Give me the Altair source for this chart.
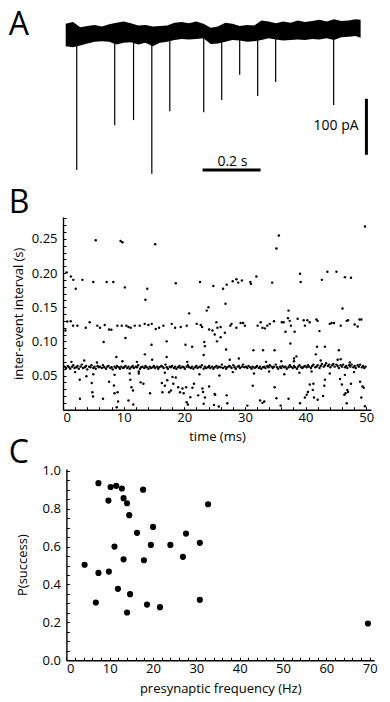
import altair as alt
import pandas as pd

FONT = "Open Sans"

# ---------------- Panel A : current trace ----------------
trace_t = [0.000, 0.025, 0.050, 0.075, 0.100, 0.125, 0.150, 0.175, 0.200, 0.225,
           0.250, 0.275, 0.300, 0.325, 0.350, 0.375, 0.400, 0.425, 0.450, 0.475,
           0.500, 0.525, 0.550, 0.575, 0.600, 0.625, 0.650, 0.675, 0.700, 0.725,
           0.750, 0.775, 0.800, 0.825, 0.850, 0.875, 0.900, 0.925, 0.950, 0.975,
           1.000, 1.017]
trace_top = [20, 23, 14, 16, 18, 15, 19, 22, 24, 21, 17, 18, 15, 16, 17, 22, 23, 21, 24, 20,
             13, 15, 22, 20, 16, 18, 17, 26, 24, 21, 24, 22, 26, 23, 25, 27, 24, 28, 25, 26,
             28, 27]
trace_bot = [-20, -22, -19, -15, -12, -11, -12, -17, -14, -13, -17, -14, -20, -14, -12, -9, -7, -8,
             -7, -6, -16, -15, -12, -9, -10, -12, -11, -9, -6, -8, -10, -9, -8, -9, -7, -8, -6,
             -9, -4, -3, -2, -5]
spike_t = [0.038, 0.169, 0.234, 0.297, 0.359, 0.476, 0.538, 0.600, 0.662, 0.724, 0.924]
spike_amp = [241, 161, 152, 248, 136, 138, 116, 71, 109, 84, 125]
time_bar = [0.472, 0.672]      # 0.2 s scale bar
time_bar_level = -241
amp_bar_time = 1.037
amp_bar = [-114, -214]         # 100 pA scale bar

# ---------------- Panel B : inter-event intervals ----------------
b_band = [
    (0.3, .063), (0.5, .061), (0.8, .064), (1.0, .062), (1.2, .060), (1.5, .063), (1.7, .065), (1.9, .061),
    (2.2, .062), (2.4, .064), (2.6, .060), (2.9, .063), (3.1, .066), (3.3, .061), (3.6, .062), (3.8, .064),
    (4.0, .059), (4.3, .063), (4.5, .062), (4.7, .065), (5.0, .061), (5.2, .063), (5.4, .060), (5.7, .064),
    (5.9, .062), (6.1, .063), (6.4, .061), (6.6, .065), (6.8, .062), (7.1, .060), (7.3, .063), (7.5, .064),
    (7.8, .061), (8.0, .062), (8.2, .059), (8.5, .063), (8.7, .061), (8.9, .064), (9.2, .062), (9.4, .060),
    (9.6, .063), (9.9, .061),
    (10.1, .062), (10.3, .064), (10.6, .061), (10.8, .063), (11.0, .060), (11.3, .062), (11.5, .064),
    (11.7, .061), (12.0, .063), (12.2, .062), (12.4, .065), (12.7, .060), (12.9, .062), (13.1, .063),
    (13.4, .061), (13.6, .064), (13.8, .062), (14.1, .060), (14.3, .063), (14.5, .061), (14.8, .062),
    (15.0, .064), (15.2, .061), (15.5, .063), (15.7, .060), (15.9, .062), (16.2, .064), (16.4, .063),
    (16.6, .061), (16.9, .066), (17.1, .062), (17.3, .060), (17.6, .063), (17.8, .062), (18.0, .064),
    (18.3, .061), (18.5, .063), (18.7, .060), (19.0, .062), (19.2, .064), (19.4, .061), (19.7, .063),
    (19.9, .062),
    (20.1, .060), (20.4, .063), (20.6, .065), (20.8, .062), (21.1, .061), (21.3, .063), (21.5, .060),
    (21.8, .062), (22.0, .064), (22.2, .061), (22.5, .063), (22.7, .062), (22.9, .065), (23.2, .060),
    (23.4, .063), (23.6, .061), (23.9, .062), (24.1, .064), (24.3, .061), (24.6, .063), (24.8, .060),
    (25.0, .062), (25.3, .064), (25.5, .061), (25.7, .063), (26.0, .062), (26.2, .066), (26.4, .061),
    (26.7, .063), (26.9, .060), (27.1, .062), (27.4, .064), (27.6, .063), (27.8, .061), (28.1, .065),
    (28.3, .062), (28.5, .060), (28.8, .063), (29.0, .064), (29.2, .061), (29.5, .063), (29.7, .066),
    (29.9, .062),
    (30.2, .063), (30.4, .061), (30.6, .064), (30.9, .062), (31.1, .060), (31.3, .063), (31.6, .061),
    (31.8, .062), (32.0, .064), (32.3, .061), (32.5, .063), (32.7, .060), (33.0, .062), (33.2, .063),
    (33.4, .061), (33.7, .064), (33.9, .062), (34.1, .065), (34.4, .063), (34.6, .061), (34.8, .063),
    (35.1, .066), (35.3, .062), (35.5, .060), (35.8, .063), (36.0, .061), (36.2, .064), (36.5, .062),
    (36.7, .063), (36.9, .060), (37.2, .062), (37.4, .065), (37.6, .063), (37.9, .061), (38.1, .064),
    (38.3, .062), (38.6, .060), (38.8, .063), (39.0, .065), (39.3, .062), (39.5, .061), (39.7, .063),
    (39.9, .064),
    (40.2, .062), (40.4, .065), (40.6, .063), (40.9, .061), (41.1, .064), (41.3, .066), (41.6, .062),
    (41.8, .063), (42.0, .065), (42.3, .061), (42.5, .064), (42.7, .067), (43.0, .063), (43.2, .065),
    (43.4, .068), (43.7, .064), (43.9, .066), (44.1, .062), (44.4, .065), (44.6, .067), (44.8, .063),
    (45.1, .066), (45.3, .064), (45.5, .061), (45.8, .065), (46.0, .063), (46.2, .066), (46.5, .062),
    (46.7, .064), (46.9, .061), (47.2, .065), (47.4, .063), (47.6, .066), (47.9, .062), (48.1, .064),
    (48.3, .061), (48.6, .065), (48.8, .063), (49.0, .066), (49.3, .062), (49.5, .064), (49.7, .061),
    (49.9, .063),
]
b_upper = [
    (0.6, .201), (1.3, .195), (1.7, .190), (2.1, .177), (3.2, .190), (5.0, .187), (7.2, .187), (8.3, .187),
    (10.2, .179), (13.6, .161), (13.9, .177), (18.6, .185), (22.6, .187), (24.8, .181), (26.4, .177),
    (27.0, .183), (28.0, .188), (28.6, .191), (28.9, .186), (29.5, .189), (30.9, .187), (31.0, .184),
    (31.9, .195), (34.5, .186), (39.1, .199), (39.2, .187), (42.7, .190), (43.6, .202), (45.1, .202),
    (46.5, .194), (47.5, .193),
    (5.4, .248), (9.5, .247), (9.8, .245), (15.2, .242), (35.2, .236), (35.6, .255), (49.8, .268),
    (20.8, .141), (23.7, .145), (24.0, .150), (26.8, .155), (37.2, .145), (46.1, .148),
]
b_mid = [
    (0.4, .116), (0.7, .129), (1.27, .1295), (1.66, .123), (2.37, .123), (3.75, .120), (4.4, .128),
    (5.67, .123), (6.11, .120), (6.88, .124), (7.6, .1174), (7.98, .117), (8.97, .123), (9.69, .123),
    (10.45, .123), (10.8, .121), (11.17, .120), (11.83, .123), (12.66, .123), (13.48, .1256),
    (14.09, .124), (14.64, .1256), (15.3, .118), (15.85, .120), (16.56, .123), (17.94, .1256),
    (18.49, .120), (19.42, .121), (20.41, .123), (22.06, .1256), (22.72, .124), (22.94, .121),
    (24.1, .1174), (24.65, .116), (25.3, .128), (25.47, .120), (25.03, .110), (26.0, .121),
    (26.7, .1125), (27.6, .123), (27.8, .1256), (28.6, .120), (29.3, .127), (29.7, .127), (30.0, .123),
    (32.1, .123), (32.6, .128), (32.9, .120), (33.3, .119), (33.7, .123), (34.1, .1256), (34.8, .1295),
    (36.1, .128), (36.4, .128), (36.7, .114), (37.1, .134), (37.4, .130), (37.6, .123), (38.7, .133),
    (39.7, .131), (39.9, .123), (40.3, .131), (40.7, .128), (41.8, .132), (42.0, .130), (42.3, .115),
    (44.0, .1256), (44.3, .127), (44.7, .127), (45.8, .123), (46.8, .130), (47.0, .131), (48.1, .1246),
    (48.6, .1218), (48.9, .132), (49.2, .132),
]
b_scatter = [
    (6.7, .099), (8.8, .077), (10.3, .105), (13.5, .081), (14.6, .095), (17.1, .100), (17.1, .077),
    (20.2, .095), (21.3, .092), (23.3, .099), (23.4, .093), (23.2, .080), (25.4, .100), (26.0, .106),
    (26.9, .088), (31.4, .087), (33.0, .087), (34.9, .087), (37.5, .097), (38.1, .075), (38.1, .071),
    (38.2, .114), (41.7, .081), (41.9, .092), (43.2, .092), (45.5, .087), (45.3, .073),
    (1.4, .070), (3.5, .072), (5.6, .069), (9.8, .071), (12.2, .070), (14.7, .073), (20.5, .070),
    (27.5, .073), (29.0, .075), (33.5, .070), (36.0, .071), (38.5, .078), (42.5, .072), (45.8, .074),
    (47.3, .069),
    (2.0, .055), (5.0, .052), (8.5, .051), (11.0, .053), (12.5, .056), (16.8, .054), (22.5, .052),
    (25.8, .050), (28.0, .055), (31.5, .053), (34.0, .056), (36.5, .052), (39.0, .054), (41.0, .056),
    (44.0, .053), (46.5, .051), (48.0, .055),
]
b_low = [
    (2.76, .0437), (2.8, .016), (3.86, .049), (4.74, .039), (4.85, .0256), (4.95, .0193), (6.6, .016),
    (7.6, .041), (8.4, .0354), (8.5, .0241), (9.0, .0256), (9.08, .012), (8.86, .0037), (10.8, .0135),
    (11.1, .0437), (11.3, .033), (11.55, .028), (11.6, .0076), (12.5, .053), (12.8, .040), (13.26, .038),
    (14.36, .024), (16.3, .039), (16.4, .0256), (16.8, .035), (17.2, .043), (17.5, .0256), (17.8, .028),
    (18.05, .048), (18.2, .038), (18.6, .047), (19.0, .033), (19.3, .0256), (19.7, .031), (19.9, .024),
    (20.3, .033), (20.4, .011), (20.6, .0076), (21.0, .0183), (21.35, .032), (21.6, .038), (22.3, .021),
    (23.0, .031), (23.1, .026), (23.4, .018), (23.2, .0086), (24.1, .034), (24.9, .007), (25.1, .022),
    (25.0, .023), (25.7, .0047), (27.0, .021), (27.1, .0095), (30.4, .006), (31.3, .035), (32.5, .0135),
    (32.9, .010), (33.2, .012), (34.9, .033), (35.2, .0168), (35.9, .006), (37.2, .016), (39.1, .0095),
    (39.9, .018), (40.2, .022), (40.4, .026), (40.7, .037), (41.3, .038), (41.2, .029), (41.4, .018),
    (42.0, .0145), (42.9, .020), (43.1, .035), (43.2, .044), (45.7, .045), (46.0, .037), (46.4, .022),
    (46.6, .024), (46.8, .0095), (46.9, .029), (47.0, .026), (47.5, .038), (49.0, .041), (49.2, .018),
    (49.4, .034), (49.6, .032), (49.8, .005),
]
b_x_labels = [0, 10, 20, 30, 40, 50]
b_y_labels = [0.05, 0.10, 0.15, 0.20, 0.25]
b_x_minor = list(range(0, 51, 2))
b_y_minor = [round(i * 0.01, 2) for i in range(0, 29)]

# ---------------- Panel C : success probability ----------------
c_freq = [7.4, 10.2, 11.5, 12.8, 17.7, 9.7, 13.2, 14.0, 14.5, 32.7, 16.3, 20.0, 27.6, 11.1, 19.5,
          24.0, 30.8, 26.9, 13.2, 17.9, 4.2, 7.4, 9.8, 11.9, 14.7, 6.8, 18.6, 21.6, 30.8, 14.0, 69.6]
c_p = [0.935, 0.915, 0.921, 0.907, 0.901, 0.843, 0.856, 0.829, 0.766, 0.824, 0.673, 0.704, 0.669,
       0.600, 0.609, 0.609, 0.620, 0.546, 0.533, 0.528, 0.504, 0.461, 0.468, 0.377, 0.349, 0.305,
       0.294, 0.280, 0.319, 0.252, 0.194]
c_x_labels = [0, 10, 20, 30, 40, 50, 60, 70]
c_y_labels = [0.0, 0.2, 0.4, 0.6, 0.8, 1.0]
c_x_minor = list(range(0, 71, 2))
c_y_minor = [round(i * 0.05, 2) for i in range(0, 21)]

W = 308
C_SHIFT = 3.4   # panel C's y axis sits a little to the right of panel B's


def main_axis(orient, values, title, fmt, pad, tpad, offset=0):
    return alt.Axis(orient=orient, values=values, title=title, format=fmt, ticks=False, tickSize=0,
                    labelPadding=pad, titlePadding=tpad, domainColor="black", domainWidth=1.4,
                    labelColor="black", titleColor="black", labelFont=FONT, titleFont=FONT,
                    labelFontSize=13, titleFontSize=13, titleFontWeight="normal", grid=False,
                    offset=offset)


def minor_axis(orient, values, offset=-3):
    return alt.Axis(orient=orient, values=values, labels=False, domain=False, ticks=True, tickSize=3,
                    tickColor="black", tickWidth=1, offset=offset, title="", grid=False)


def letter(txt, dx, dy):
    return alt.Chart(pd.DataFrame({"l": [txt]})).mark_text(
        align="left", baseline="top", font=FONT, fontSize=32, color="black"
    ).encode(x=alt.value(dx), y=alt.value(dy), text="l:N")


# ----- Panel A chart -----
HA = 175
xa = alt.Scale(domain=[-0.0093, 1.0528], nice=False)
ya = alt.Scale(domain=[44.6 - HA / 0.56, 44.6], nice=False)
trace_df = pd.DataFrame({"t": trace_t, "top": trace_top, "bot": trace_bot})
spike_df = pd.DataFrame({"t": spike_t, "peak": [-a for a in spike_amp], "base": [0] * len(spike_t)})

band = alt.Chart(trace_df).mark_area(color="black", interpolate="linear").encode(
    x=alt.X("t:Q", scale=xa, axis=None), y=alt.Y("bot:Q", scale=ya, axis=None), y2="top:Q")
spikes = alt.Chart(spike_df).mark_rule(color="black", strokeWidth=1.2).encode(
    x=alt.X("t:Q", scale=xa, axis=None), y=alt.Y("base:Q", scale=ya, axis=None), y2="peak:Q")
hbar = alt.Chart(pd.DataFrame({"t1": [time_bar[0]], "t2": [time_bar[1]], "v": [time_bar_level]})).mark_rule(
    color="black", strokeWidth=3).encode(
    x=alt.X("t1:Q", scale=xa, axis=None), x2="t2:Q", y=alt.Y("v:Q", scale=ya, axis=None))
vbar = alt.Chart(pd.DataFrame({"t": [amp_bar_time], "v1": [amp_bar[0]], "v2": [amp_bar[1]]})).mark_rule(
    color="black", strokeWidth=3).encode(
    x=alt.X("t:Q", scale=xa, axis=None), y=alt.Y("v1:Q", scale=ya, axis=None), y2="v2:Q")
tlabel = alt.Chart(pd.DataFrame({"t": [0.575], "v": [-234], "s": ["0.2 s"]})).mark_text(
    align="center", baseline="alphabetic", font=FONT, fontSize=14, color="black").encode(
    x=alt.X("t:Q", scale=xa, axis=None), y=alt.Y("v:Q", scale=ya, axis=None), text="s:N")
alabel = alt.Chart(pd.DataFrame({"t": [1.010], "v": [-163], "s": ["100 pA"]})).mark_text(
    align="right", baseline="middle", font=FONT, fontSize=14, color="black").encode(
    x=alt.X("t:Q", scale=xa, axis=None), y=alt.Y("v:Q", scale=ya, axis=None), text="s:N")
panel_a = alt.layer(band, spikes, hbar, vbar, tlabel, alabel, letter("A", -54.3, 0)).properties(
    width=W, height=HA)

# ----- Panel B chart -----
b_rows = b_band + b_upper + b_mid + b_scatter + b_low
bdf = pd.DataFrame(b_rows, columns=["t", "iei"])
xb = alt.Scale(domain=[0, 50.8], nice=False)
yb = alt.Scale(domain=[0, 0.282], nice=False)
b_minor = alt.Chart(bdf).mark_circle(opacity=0).encode(
    x=alt.X("t:Q", scale=xb, axis=minor_axis("bottom", b_x_minor)),
    y=alt.Y("iei:Q", scale=yb, axis=minor_axis("left", b_y_minor)))
b_pts = alt.Chart(bdf).mark_circle(size=6, color="black", opacity=1).encode(
    x=alt.X("t:Q", scale=xb, axis=main_axis("bottom", b_x_labels, "time (ms)", "d", 2, 6)),
    y=alt.Y("iei:Q", scale=yb, axis=main_axis("left", b_y_labels, "inter-event interval (s)", ".2f", 6, 6)))
panel_b = alt.layer(b_minor, b_pts, letter("B", -54.3, -28.7)).resolve_axis(
    x="independent", y="independent").properties(width=W, height=192.7)

# ----- Panel C chart -----
WC = 311
cdf = pd.DataFrame({"f": c_freq, "p": c_p})
xc = alt.Scale(domain=[0, 71], nice=False, range=[C_SHIFT, WC])
yc = alt.Scale(domain=[0, 1.01], nice=False)
c_minor = alt.Chart(cdf).mark_circle(opacity=0).encode(
    x=alt.X("f:Q", scale=xc, axis=minor_axis("bottom", c_x_minor)),
    y=alt.Y("p:Q", scale=yc, axis=minor_axis("left", c_y_minor, offset=-3 - C_SHIFT)))
c_pts = alt.Chart(cdf).mark_circle(size=38, color="black", opacity=1).encode(
    x=alt.X("f:Q", scale=xc, axis=main_axis("bottom", c_x_labels, "presynaptic frequency (Hz)", "d", 2, 7)),
    y=alt.Y("p:Q", scale=yc, axis=main_axis("left", c_y_labels, "P(success)", ".1f", 6, 13, offset=-C_SHIFT)))
panel_c = alt.layer(c_minor, c_pts, letter("C", -54.3, -31.3)).resolve_axis(
    x="independent", y="independent").properties(width=WC, height=191.2)

lower = alt.vconcat(panel_b, panel_c, spacing=-9)
chart = alt.vconcat(panel_a, lower, spacing=0).properties(
    padding={"left": 0, "top": 0, "right": 0, "bottom": 0}
).configure_view(stroke="transparent")

chart.save("out.html", embed_options={"renderer": "svg", "actions": False})
